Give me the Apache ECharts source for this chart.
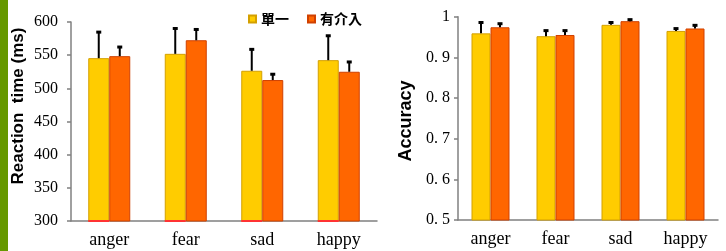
<!DOCTYPE html>
<html>
<head>
<meta charset="utf-8">
<script src="https://cdn.jsdelivr.net/npm/echarts@6/dist/echarts.min.js"></script>
<style>
  html, body { margin: 0; padding: 0; background: #fff; }
  #chart { width: 726px; height: 251px; }
</style>
</head>
<body>
<div id="chart"></div>
<script>
// emotion categories and the two conditions
const categories = ['anger', 'fear', 'sad', 'happy']
const seriesNames = ['單一', '有介入']

// reaction time (ms): means and upper error ends
const rtSingle = [545.5, 552, 526.5, 542.5]
const rtSingleErr = [585.5, 591, 559.5, 580]
const rtMixed = [548.5, 572.5, 512.5, 525]
const rtMixedErr = [563, 589.5, 522, 540.5]

// accuracy: means and upper error ends
const accSingle = [0.959, 0.952, 0.980, 0.965]
const accSingleErr = [0.987, 0.967, 0.987, 0.972]
const accMixed = [0.974, 0.955, 0.989, 0.971]
const accMixedErr = [0.984, 0.967, 0.994, 0.980]

const yellow = '#FFCC00'
const orange = '#FF6600'
const axisGray = '#808080'
const serif = '"Liberation Serif", "DejaVu Serif", serif'
const sansBold = { fontFamily: '"Liberation Sans", Arial, sans-serif', fontWeight: 'bold', fill: '#000' }

// error bar drawn from bar top upward, shifted to the bar centre
function errorSeries(name, means, uppers, xIdx, offset, baseline) {
  return {
    type: 'custom',
    name: name,
    xAxisIndex: xIdx,
    yAxisIndex: xIdx,
    silent: true,
    z: 5,
    data: means.map((m, i) => [i, m, uppers[i]]),
    renderItem(params, api) {
      const top = api.coord([api.value(0), api.value(2)])
      const bot = api.coord([api.value(0), api.value(1)])
      const x = top[0] + offset
      const children = [
        { type: 'line', shape: { x1: x, y1: bot[1], x2: x, y2: top[1] }, style: { stroke: '#000', lineWidth: 2 } },
        { type: 'rect', shape: { x: x - 2.5, y: top[1] - 1, width: 5, height: 3 }, style: { fill: '#000' } }
      ]
      if (baseline) {
        const b = api.coord([api.value(0), baseline.value])
        children.push({
          type: 'line',
          shape: { x1: x - baseline.half, y1: b[1], x2: x + baseline.half, y2: b[1] },
          style: { stroke: '#FF3333', lineWidth: 2 }
        })
      }
      return { type: 'group', children: children }
    }
  }
}

function barSeries(name, data, idx, color, border, width) {
  return {
    type: 'bar',
    name: name,
    xAxisIndex: idx,
    yAxisIndex: idx,
    data: data,
    barWidth: width,
    barGap: '0%',
    itemStyle: { color: color, borderColor: border, borderWidth: 1 }
  }
}

const catAxis = (idx) => ({
  type: 'category',
  gridIndex: idx,
  data: categories,
  axisLine: { lineStyle: { color: axisGray, width: 1.5 } },
  axisTick: { length: 5, lineStyle: { color: axisGray, width: 1.5 } },
  axisLabel: { color: '#000', fontFamily: serif, fontSize: 18, margin: 10 }
})

const valAxis = (idx, min, max, interval, margin, formatter) => ({
  type: 'value',
  gridIndex: idx,
  min: min,
  max: max,
  interval: interval,
  splitLine: { show: false },
  axisLine: { show: true, lineStyle: { color: axisGray, width: 1.5 } },
  axisTick: { show: true, length: 4, lineStyle: { color: axisGray, width: 1.5 } },
  axisLabel: { color: '#000', fontFamily: serif, fontSize: 16, margin: margin, formatter: formatter }
})

const chart = echarts.init(document.getElementById('chart'), null, { renderer: 'canvas' })

chart.setOption({
  animation: false,
  backgroundColor: '#fff',
  graphic: [
    { type: 'rect', left: 0, top: 0, shape: { width: 8, height: 251 }, style: { fill: '#669900' } },
    {
      type: 'text', x: 18, y: 106, rotation: Math.PI / 2,
      style: Object.assign({ text: 'Reaction  time (ms)', fontSize: 17, align: 'center', verticalAlign: 'middle' }, sansBold)
    },
    {
      type: 'text', x: 406, y: 121, rotation: Math.PI / 2,
      style: Object.assign({ text: 'Accuracy', fontSize: 18, align: 'center', verticalAlign: 'middle' }, sansBold)
    }
  ],
  legend: {
    left: 243,
    top: 7,
    itemWidth: 7,
    itemHeight: 7,
    itemGap: 18,
    icon: 'rect',
    data: seriesNames,
    textStyle: { fontFamily: '"Noto Sans CJK TC"', fontSize: 14, fontWeight: 'bold', color: '#000' }
  },
  grid: [
    { left: 71, right: 349, top: 22, bottom: 30 },
    { left: 458, right: 8, top: 16.7, bottom: 31 }
  ],
  xAxis: [catAxis(0), catAxis(1)],
  yAxis: [
    valAxis(0, 300, 600, 50, 13),
    valAxis(1, 0.5, 1, 0.1, 8, (v) => (Math.abs(v - 1) < 1e-9 ? '1' : v.toFixed(1).replace('.', '. ')))
  ],
  series: [
    barSeries(seriesNames[0], rtSingle, 0, yellow, '#D4A000', 21),
    barSeries(seriesNames[1], rtMixed, 0, orange, '#D04000', 21),
    barSeries(seriesNames[0], accSingle, 1, yellow, '#D4A000', 19),
    barSeries(seriesNames[1], accMixed, 1, orange, '#D04000', 19),
    errorSeries('errRtSingle', rtSingle, rtSingleErr, 0, -10.5, { value: 300, half: 10.5 }),
    errorSeries('errRtMixed', rtMixed, rtMixedErr, 0, 10.5),
    errorSeries('errAccSingle', accSingle, accSingleErr, 1, -9.5),
    errorSeries('errAccMixed', accMixed, accMixedErr, 1, 9.5)
  ]
})
</script>
</body>
</html>
